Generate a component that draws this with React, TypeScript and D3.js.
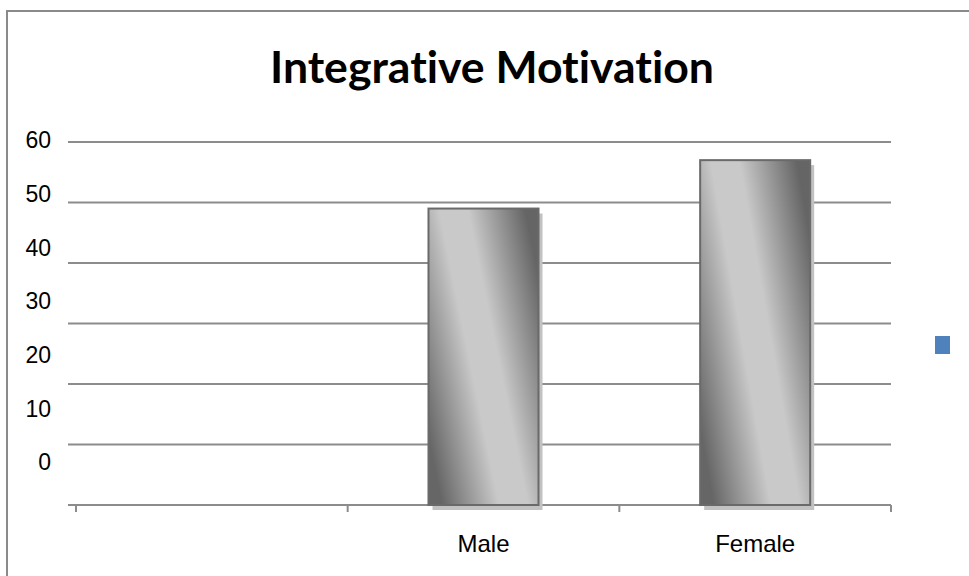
import { useEffect } from 'react';
import * as d3 from 'd3';

const title = 'Integrative Motivation';
const categories = ['', 'Male', 'Female'];
const values: (number | null)[] = [null, 49, 57];
const yTicks = [60, 50, 40, 30, 20, 10, 0];

const W = 969;
const H = 576;
const plot = { left: 76, right: 891, top: 142, bottom: 505, gridStart: 68 };

export default function App() {
  useEffect(() => {
    document.body.style.margin = '0';
  }, []);

  const x = d3.scaleBand().domain(categories).range([plot.left, plot.right]).padding(0);
  const y = d3.scaleLinear().domain([0, 60]).range([plot.bottom, plot.top]);
  // the tick labels in the source sit on their own, evenly spaced track
  const labelY = d3.scalePoint<number>().domain(yTicks).range([140, 462]);
  const barW = x.bandwidth() * 0.405;

  const bars = categories
    .map((c, i) => ({ c, v: values[i] }))
    .filter((d) => d.v != null) as { c: string; v: number }[];

  const tickXs = [...categories.map((c) => x(c) || 0), plot.right];

  return (
    <svg width={W} height={H} style={{ display: 'block' }} fontFamily="'Liberation Sans', Arial, sans-serif">
      <defs>
        <linearGradient id="barFill" x1="0" y1="0.775" x2="1" y2="0.225">
          <stop offset="0" stopColor="#666666" />
          <stop offset="0.4" stopColor="#c9c9c9" />
          <stop offset="0.6" stopColor="#c9c9c9" />
          <stop offset="1" stopColor="#656565" />
        </linearGradient>
      </defs>
      <rect x={0} y={0} width={W} height={H} fill="#fff" />
      <rect x={7} y={11} width={W + 20} height={H + 20} fill="none" stroke="#8a8a8a" strokeWidth={2} />

      <text
        x={492}
        y={83}
        textAnchor="middle"
        fontFamily="Lato, 'Open Sans', sans-serif"
        fontWeight={700}
        fontSize={44}
        textLength={444}
        lengthAdjust="spacingAndGlyphs"
        style={{ fontVariantLigatures: 'none' }}
        fill="#000"
      >
        {title}
      </text>

      {yTicks.map((t) => (
        <line key={`g${t}`} x1={plot.gridStart} x2={plot.right} y1={y(t)} y2={y(t)} stroke="#8c8c8c" strokeWidth={2} />
      ))}
      {tickXs.map((tx, i) => (
        <line key={`t${i}`} x1={tx} x2={tx} y1={plot.bottom} y2={plot.bottom + 7} stroke="#8c8c8c" strokeWidth={2} />
      ))}

      {yTicks.map((t) => (
        <text key={`l${t}`} x={51} y={labelY(t)} dy="0.36em" textAnchor="end" fontSize={23} fill="#000">
          {t}
        </text>
      ))}

      {bars.map((d) => {
        const bx = (x(d.c) || 0) + (x.bandwidth() - barW) / 2;
        return (
          <g key={d.c}>
            <rect x={bx + 4} y={y(d.v) + 5} width={barW} height={plot.bottom - y(d.v)} fill="#c2c2c2" />
            <rect
              x={bx}
              y={y(d.v)}
              width={barW}
              height={plot.bottom - y(d.v)}
              fill="url(#barFill)"
              stroke="#6a6a6a"
              strokeWidth={2}
            />
          </g>
        );
      })}

      {categories.map((c) => (
        <text key={`c${c}`} x={(x(c) || 0) + x.bandwidth() / 2} y={552} textAnchor="middle" fontSize={24} fill="#000">
          {c}
        </text>
      ))}

      <rect x={935} y={336} width={15} height={18} fill="#4f81bd" />
    </svg>
  );
}
